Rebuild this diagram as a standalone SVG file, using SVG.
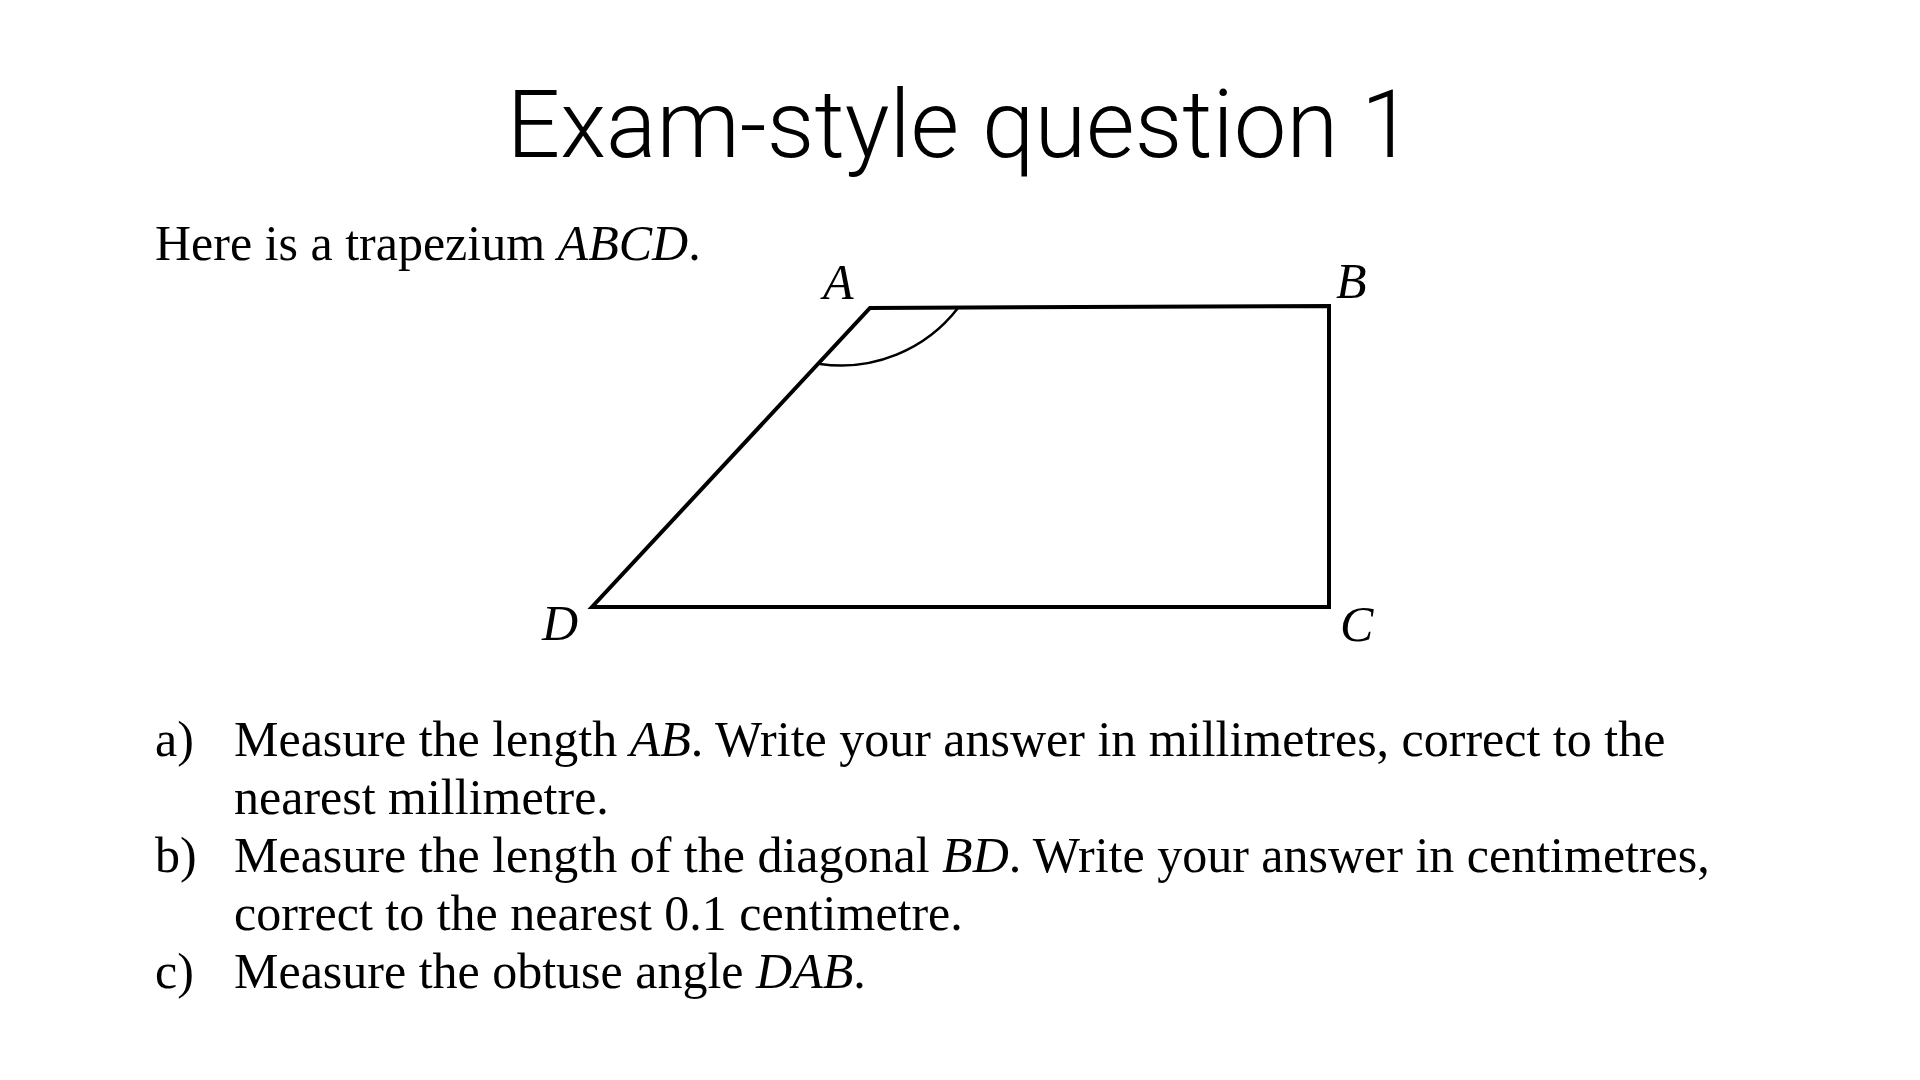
<svg xmlns="http://www.w3.org/2000/svg" width="1920" height="1080" viewBox="0 0 1920 1080">
<style>
.title{font-family:Roboto,"Liberation Sans",sans-serif;font-weight:300;font-size:94px;fill:#000}
.t{font-family:"Liberation Serif","Times New Roman",serif;font-size:50px;fill:#000}
.i{font-style:italic}
.edge{fill:none;stroke:#000;stroke-width:4;stroke-linejoin:miter}
.arc{fill:none;stroke:#000;stroke-width:2.5}
</style>
<rect width="1920" height="1080" fill="#fff"/>
<g id="title"><text class="title" x="960" y="157" text-anchor="middle">Exam-style question 1</text></g>
<g id="intro"><text class="t" x="155" y="260">Here is a trapezium <tspan class="i">ABCD</tspan>.</text></g>
<g id="trapezium">
<path class="edge" d="M870 308 L1329 306 L1329 607 L592 607 Z"/>
<path class="arc" d="M958 308 A148 148 0 0 1 820 364"/>
</g>
<g id="vertex-labels">
<text class="t i" x="823" y="299">A</text>
<text class="t i" x="1336" y="298">B</text>
<text class="t i" x="1340" y="641">C</text>
<text class="t i" x="542" y="640">D</text>
</g>
<g id="questions">
<text class="t" x="155" y="756">a)</text>
<text class="t" x="234" y="756">Measure the length <tspan class="i">AB</tspan>. Write your answer in millimetres, correct to the</text>
<text class="t" x="234" y="814">nearest millimetre.</text>
<text class="t" x="155" y="872">b)</text>
<text class="t" x="234" y="872">Measure the length of the diagonal <tspan class="i">BD</tspan>. Write your answer in centimetres,</text>
<text class="t" x="234" y="930">correct to the nearest 0.1 centimetre.</text>
<text class="t" x="155" y="988">c)</text>
<text class="t" x="234" y="988">Measure the obtuse angle <tspan class="i">DAB</tspan>.</text>
</g>
</svg>
